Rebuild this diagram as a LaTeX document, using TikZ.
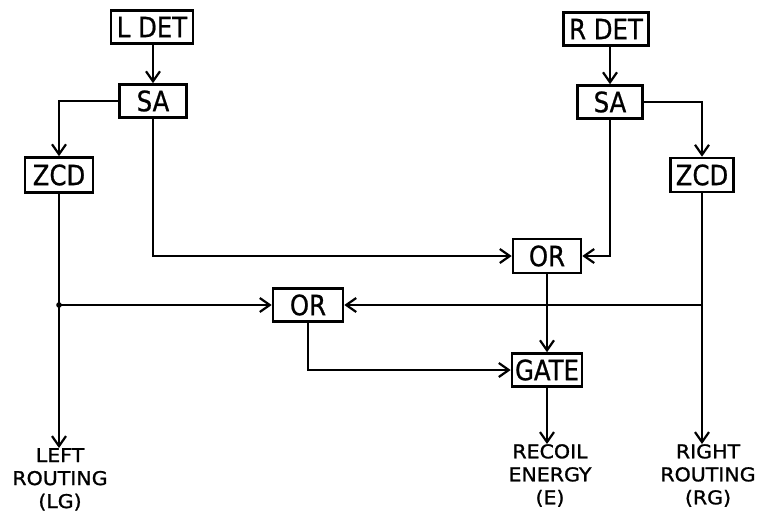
\documentclass[tikz,border=0pt]{standalone}
\usepackage{fontspec}
\setmainfont{DejaVu Sans}
\newfontfamily\boxfont[FakeStretch=0.87,FakeBold=0.8]{DejaVu Sans}
\newfontfamily\lblfont[FakeStretch=1.08,FakeBold=1.2]{DejaVu Sans}
\usetikzlibrary{arrows.meta}
\begin{document}
\begin{tikzpicture}[x=1pt,y=-1pt,
  blk/.style={draw,line width=2.6pt,inner sep=0pt,font=\boxfont\fontsize{28}{30}\selectfont},
  lbl/.style={align=center,inner sep=0pt,font=\lblfont\fontsize{19}{23}\selectfont},
  wire/.style={line width=2.5pt},
  arr/.style={wire,-{Straight Barb[length=10pt,width=14pt,line width=2.2pt]}}]
\useasboundingbox (0,0) rectangle (760,520);
\node[blk,minimum width=82pt,minimum height=33pt] (ldet) at (152,27) {L DET};
\node[blk,minimum width=67pt,minimum height=33pt] (lsa) at (153,101) {SA};
\node[blk,minimum width=68pt,minimum height=35pt] (lzcd) at (59,175) {ZCD};
\node[blk,minimum width=85pt,minimum height=33pt] (rdet) at (606,29) {R DET};
\node[blk,minimum width=65pt,minimum height=33pt] (rsa) at (610,102) {SA};
\node[blk,minimum width=63pt,minimum height=34pt] (rzcd) at (702,175) {ZCD};
\node[blk,minimum width=68pt,minimum height=34pt] (orr) at (547,256) {OR};
\node[blk,minimum width=70pt,minimum height=33pt] (orl) at (308,305) {OR};
\node[blk,minimum width=70pt,minimum height=33pt] (gate) at (547,370) {GATE};
\node[lbl,anchor=north] (lout) at (60,448) {LEFT\\ROUTING\\(LG)};
\node[lbl,anchor=north] (eout) at (550,444) {RECOIL\\ENERGY\\(E)};
\node[lbl,anchor=north] (rout) at (708,444) {RIGHT\\ROUTING\\(RG)};
\coordinate (lj) at (lzcd.south |- orl);
\coordinate (rj) at (rzcd.south |- orl);
\draw[arr] (ldet.south -| lsa) -- (lsa.north);
\draw[arr] (rdet.south -| rsa) -- (rsa.north);
\draw[arr] (lsa.west) -| (lzcd.north);
\draw[arr] (rsa.east) -| (rzcd.north);
\draw[arr] (lsa.south) |- (orr.west);
\draw[arr] (rsa.south) |- (orr.east);
\draw[arr] (lzcd.south) -- (lzcd.south |- lout.north);
\draw[arr] (rzcd.south) -- (rzcd.south |- rout.north);
\draw[arr] (lj) -- (orl.west);
\draw[arr] (rj) -- (orl.east);
\fill (lj) circle (2.8pt);
\draw[arr] (orr.south) -- (gate.north);
\draw[arr] (orl.south) |- (gate.west);
\draw[arr] (gate.south) -- (gate.south |- eout.north);
\end{tikzpicture}
\end{document}
